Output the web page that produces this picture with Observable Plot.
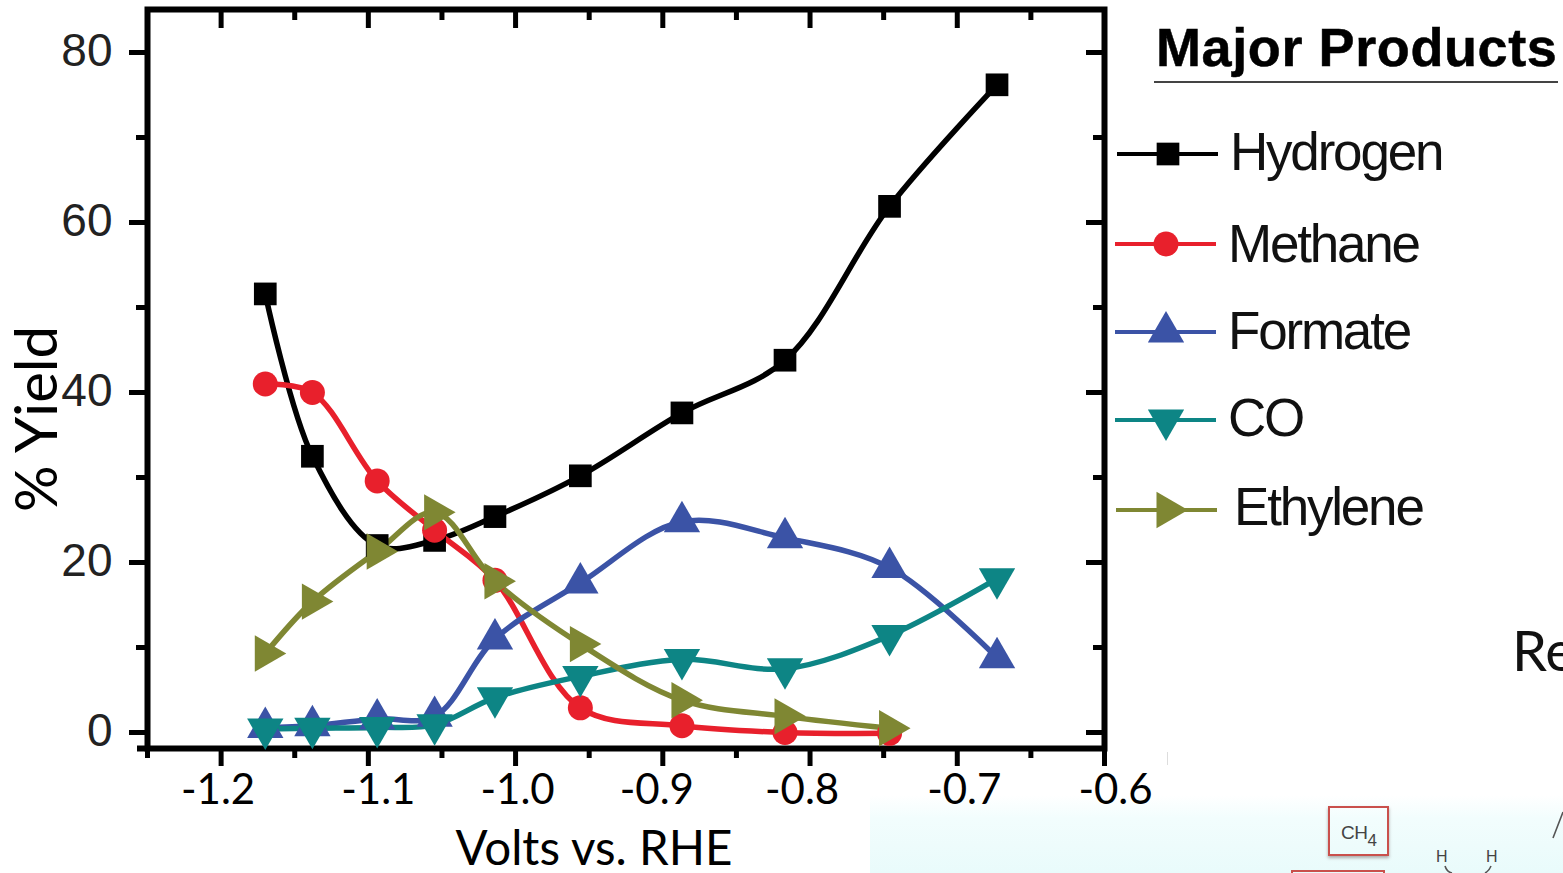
<!DOCTYPE html>
<html><head><meta charset="utf-8">
<script src="https://cdn.jsdelivr.net/npm/d3@7"></script>
<script src="https://cdn.jsdelivr.net/npm/@observablehq/plot@0.6"></script>
<style>
html,body{margin:0;padding:0;width:1563px;height:873px;overflow:hidden;background:#fff}
#stage{position:relative;width:1563px;height:873px;overflow:hidden}
#stage>*{position:absolute}
#stage svg{overflow:visible}
.leg{font-family:"Liberation Sans",Arial,sans-serif;font-size:53px;color:#111;line-height:50px;white-space:nowrap;letter-spacing:-2.2px}
</style></head><body><div id="stage"></div>
<script>
const volts = [-1.170,-1.138,-1.094,-1.055,-1.014,-0.956,-0.887,-0.817,-0.746,-0.673];
const hydrogen = [51.6,32.5,22.0,22.6,25.4,30.2,37.6,43.8,61.9,76.2];
const methane  = [41.0,40.0,29.6,23.8,17.9,2.9,0.8,0.0,-0.1];
const formate  = [0.6,0.8,1.6,1.9,11.0,17.6,24.8,22.9,19.4,8.8];
const co       = [0.4,0.5,0.6,0.9,4.1,6.6,8.6,7.5,11.4,18.1];
const ethylene = [9.3,15.4,21.3,25.9,17.8,10.4,3.8,1.9,0.5];

const names  = ["Hydrogen","Methane","Formate","CO","Ethylene"];
const values = [hydrogen,methane,formate,co,ethylene];
const colors = ["#000000","#e8202c","#3b53a6","#0d8585","#7f8733"];
const symbols = ["square","circle","triangle","triangle","triangle"];
const rotations = [0,0,0,180,90];
const radii = [12.8,12.5,13.5,13.5,13.5];

const xMajor = [-1.2,-1.1,-1.0,-0.9,-0.8,-0.7,-0.6];
const xMinor = [-1.25,-1.15,-1.05,-0.95,-0.85,-0.75,-0.65];
const yMajor = [0,20,40,60,80];
const yMinor = [10,30,50,70];

const xDomain=[-1.25,-0.6], yDomain=[-1.88,85.06];
const pxX=(1104-147)/0.65, pxY=8.5;
const xLabelNudge=[-3,10,2,-6,-8,7,11];

const series = names.map((name,i)=>({name,color:colors[i],symbol:symbols[i],rotate:rotations[i],r:radii[i],
  points:values[i].map((y,j)=>({x:volts[j],y}))}));

const tickStroke={stroke:"#000",strokeWidth:5};
const marks=[
  Plot.ruleY([yDomain[0]],{x1:xDomain[0]-10/pxX,x2:xDomain[0],stroke:"#000",strokeWidth:6}),
  Plot.frame({stroke:"#000",strokeWidth:6}),
  Plot.ruleX(xMajor,{y1:yDomain[0],y2:yDomain[0]-18/pxY,...tickStroke}),
  Plot.ruleX(xMinor,{y1:yDomain[0],y2:yDomain[0]-10/pxY,...tickStroke}),
  Plot.ruleX(xMajor,{y1:yDomain[1],y2:yDomain[1]-19/pxY,...tickStroke}),
  Plot.ruleX(xMinor,{y1:yDomain[1],y2:yDomain[1]-11/pxY,...tickStroke}),
  Plot.ruleY(yMajor,{x1:xDomain[0],x2:xDomain[0]-18/pxX,...tickStroke}),
  Plot.ruleY(yMinor,{x1:xDomain[0],x2:xDomain[0]-11/pxX,...tickStroke}),
  Plot.ruleY(yMajor,{x1:xDomain[1],x2:xDomain[1]-18/pxX,...tickStroke}),
  Plot.ruleY(yMinor,{x1:xDomain[1],x2:xDomain[1]-11/pxX,...tickStroke}),
  Plot.text(yMajor,{x:xDomain[0],y:d=>d,text:d=>String(d),textAnchor:"end",dx:-35,dy:-1,
    fontFamily:"Liberation Sans",fontSize:46,fill:"#222",letterSpacing:"-1.5px"}),
  ...xMajor.map((t,i)=>Plot.text([t],{x:d=>d,frameAnchor:"bottom",dx:xLabelNudge[i],dy:55,text:d=>d.toFixed(1),
    fontFamily:"Lato",fontSize:42,fill:"#000"})),
  Plot.text(["Volts vs. RHE"],{frameAnchor:"bottom",dx:-32,dy:116,text:d=>d,fontFamily:"Lato",fontSize:47.5,fill:"#000"}),
  Plot.text(["% Yield"],{frameAnchor:"left",dx:-109,dy:133,rotate:-90,text:d=>d,fontFamily:"Lato",fontSize:58,fill:"#000"})
];
for(const s of series){
  marks.push(Plot.line(s.points,{x:"x",y:"y",curve:"catmull-rom",stroke:s.color,strokeWidth:5.5}));
}
for(const s of series){
  marks.push(Plot.dot(s.points,{x:"x",y:"y",symbol:()=>s.symbol,r:s.r,fill:s.color,stroke:"none",rotate:s.rotate}));
}

const plot=Plot.plot({width:1563,height:873,marginLeft:147,marginRight:459,marginTop:9,marginBottom:125,
  x:{domain:xDomain,axis:null},y:{domain:yDomain,axis:null},symbol:{type:"identity"},
  style:{background:"transparent",overflow:"visible"},marks});
const stage=document.getElementById("stage");

function box(css,html){const d=document.createElement("div");d.style.cssText=css;if(html)d.innerHTML=html;stage.appendChild(d);return d;}

// background slide fragments, behind the chart
box("left:870px;top:795px;width:693px;height:78px;background:linear-gradient(to bottom,#ffffff 0%,#f2fdfd 30%,#e9fbfb 100%)");
box("left:1167px;top:752px;width:1px;height:13px;background:#ddd");
box("left:1328px;top:806px;width:57px;height:46px;border:2px solid #c9504c;box-shadow:0 2px 3px #aaa");
box('left:1341px;top:822px;font:19px "Liberation Sans";color:#444;white-space:nowrap;letter-spacing:-.5px','CH<sub style="font-size:17px;vertical-align:-7px">4</sub>');
box("left:1291px;top:870px;width:90px;height:10px;border:2px solid #c9504c");
box('left:1436px;top:848px;font:16px "Liberation Sans";color:#444','H');
box('left:1486px;top:848px;font:16px "Liberation Sans";color:#444','H');
box('left:1512px;top:616px;font:56px/68px Lato;color:#111;white-space:nowrap','Re');

stage.appendChild(plot);

// title and legend
box('left:1156px;top:18px;font:bold 54px/58px "Liberation Sans";letter-spacing:.6px;color:#000;white-space:nowrap;-webkit-text-stroke:.5px #000','Major Products');
box("left:1154px;top:81px;width:404px;height:2px;background:#444");

const legX=[1117,1115,1115,1115,1116], legY=[154,244,332,420,510], legTx=[1230,1228,1228,1228,1234], legTy=[152,244,331,418,507];
const legSvg=d3.create("svg").attr("width",1563).attr("height",873).style("left","0").style("top","0");
const symType={square:d3.symbolSquare,circle:d3.symbolCircle,triangle:d3.symbolTriangle};
series.forEach((s,i)=>{
  legSvg.append("line").attr("x1",legX[i]).attr("x2",legX[i]+101).attr("y1",legY[i]).attr("y2",legY[i]).attr("stroke",s.color).attr("stroke-width",4);
  legSvg.append("path").attr("d",d3.symbol(symType[s.symbol],Math.PI*s.r*s.r)())
    .attr("transform",`translate(${legX[i]+51},${legY[i]}) rotate(${s.rotate})`).attr("fill",s.color);
  const t=box(`left:${legTx[i]}px;top:${legTy[i]-25}px`,s.name); t.className="leg";
});
// molecule fragments at the lower right edge of the slide
legSvg.append("path").attr("d","M1553 838L1563 812M1445 866Q1447 872 1452 873M1485 873Q1489 871 1491 866").attr("fill","none").attr("stroke","#555").attr("stroke-width",1.6);
stage.appendChild(legSvg.node());
</script></body></html>
